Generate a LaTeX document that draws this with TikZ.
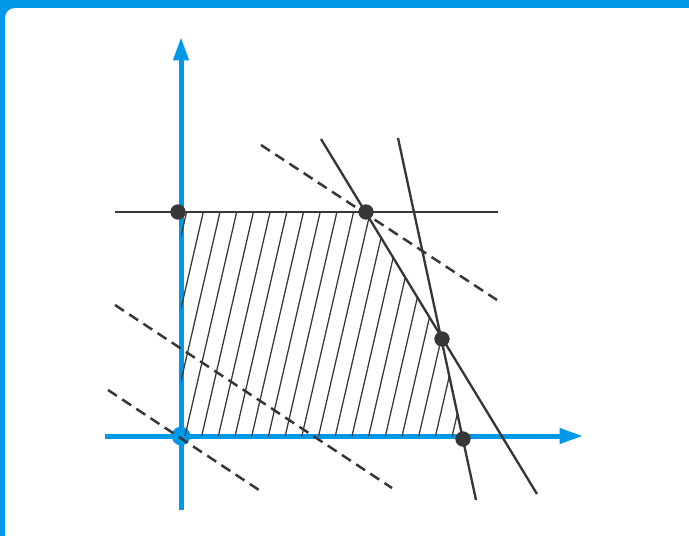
\documentclass[tikz,border=0pt]{standalone}
\usetikzlibrary{arrows.meta}
\definecolor{axblue}{RGB}{0,152,232}
\definecolor{ink}{RGB}{55,55,55}
\tikzset{
  axis/.style={line width=1.5mm,axblue,-{Triangle[length=7mm,width=4.4mm]}},
  bound/.style={line width=0.7mm,ink},
  level/.style={line width=0.75mm,ink,dash pattern=on 3.2mm off 1.9mm},
  hatch/.style={line width=0.38mm,ink},
  vertex/.style={circle,fill=ink,inner sep=0pt,minimum size=4.6mm},
  origin/.style={circle,fill=axblue,inner sep=0pt,minimum size=5.6mm}
}

\begin{document}
\begin{tikzpicture}[x=0.3mm,y=-0.3mm]
\useasboundingbox (0,0) rectangle (689,536);
\fill[axblue] (0,0) rectangle (689,536);
\fill[white,rounded corners=3mm] (5,8) rectangle (700,560);

\coordinate (O) at (181,436);
\coordinate (A) at (181,212);
\coordinate (B) at (366,212);
\coordinate (C) at (442,339);
\coordinate (D) at (463,436);

\coordinate (xs) at (105,436);
\coordinate (xe) at (583,436);
\coordinate (ys) at (181,510);
\coordinate (ye) at (181,37);
\draw[axis] (xs) -- (xe);
\draw[axis] (ys) -- (ye);
\node[origin] (o) at (O) {};

\begin{scope}
\clip (O) -- (A) -- (B) -- (C) -- (D) -- cycle;
\foreach \k in {-4,...,18}
  \draw[hatch] ({185+16.7*\k},436) -- ++(60,-260);
\end{scope}

\coordinate (h1) at (115,212);
\coordinate (h2) at (498,212);
\coordinate (s1) at (321,139);
\coordinate (s2) at (537,494);
\coordinate (t1) at (398,138);
\coordinate (t2) at (476,500);
\draw[bound] (h1) -- (h2);
\draw[bound] (s1) -- (s2);
\draw[bound] (t1) -- (t2);

\coordinate (d1) at (261,145);
\coordinate (d2) at (497,300);
\coordinate (e1) at (115,305);
\coordinate (e2) at (392,488);
\coordinate (f1) at (108,390);
\coordinate (f2) at (262,492);
\draw[level] (d1) -- (d2);
\draw[level] (e1) -- (e2);
\draw[level] (f1) -- (f2);

\node[vertex] (a) at (178,212) {};
\node[vertex] (b) at (B) {};
\node[vertex] (c) at (C) {};
\node[vertex] (d) at (463,439) {};
\end{tikzpicture}
\end{document}
